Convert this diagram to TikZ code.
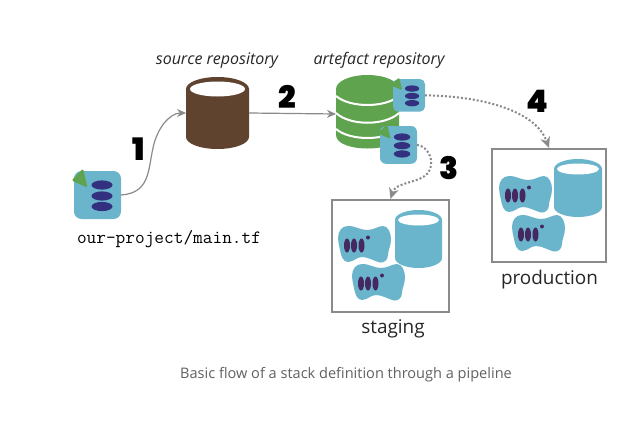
\documentclass[tikz,border=0pt]{standalone}
\usepackage{fontspec}
\usetikzlibrary{arrows.meta}
\setmainfont{Open Sans}
\newfontfamily\heavyfont{Poppins}[UprightFont=*-Black]
\definecolor{teal}{HTML}{6AB5CB}
\definecolor{grn}{HTML}{5FA34F}
\definecolor{brn}{HTML}{5F432E}
\definecolor{navy}{HTML}{33307F}
\definecolor{plum}{HTML}{45285F}
\definecolor{gry}{HTML}{8A8A8A}
\tikzset{
  link/.style={draw=gry,line width=1.2pt,-{Stealth[length=9pt,width=8pt]}},
  dotlink/.style={draw=gry,line width=2pt,dash pattern=on 2pt off 2pt,-{Stealth[length=11pt,width=10pt,line width=0pt]}},
  frame/.style={draw=gry,line width=2.2pt,fill=white,inner sep=0pt},
  num/.style={font=\heavyfont\fontsize{31}{31}\selectfont,inner sep=0pt,text=black},
  italiclabel/.style={font=\itshape\fontsize{16}{17}\selectfont,inner sep=0pt,text=black!85},
  envlabel/.style={font=\fontsize{18.9}{20}\selectfont,inner sep=0pt,text=black!85},
}
% file icon: name, left, top, size
\newcommand\fileicon[4]{%
  \begin{scope}[shift={(#2,#3)},x=#4/47,y=-#4/47]
    \fill[teal,rounded corners=#4*0.16] (0,0) rectangle (47,48);
    \fill[grn,rounded corners=1.5pt] (-2.5,9.5) -- (9,-2.5) -- (13.5,16.5) -- cycle;
    \fill[navy] (28,14) ellipse [x radius=10.5,y radius=4.6];
    \fill[navy] (28,25) ellipse [x radius=10.5,y radius=4.6];
    \fill[navy] (28,35.5) ellipse [x radius=10.5,y radius=4.6];
    \coordinate (#1) at (47,24);
  \end{scope}}
% cylinder: left, top, right, bottom, body colour, ellipse inset, outer y radius
\newcommand\drum[7]{%
  \fill[#5] (#1,#2+#7) arc[start angle=180,end angle=360,x radius=(#3-#1)/2,y radius=#7]
     -- (#3,#4-#7) arc[start angle=0,end angle=180,x radius=(#3-#1)/2,y radius=#7] -- cycle;
  \fill[white] ({(#1+#3)/2},#2+#7) ellipse [x radius=(#3-#1)/2-#6,y radius=#7-4.5];
}
% blob: left, top
\newcommand\blob[2]{%
  \begin{scope}[shift={(#1,#2)}]
    \fill[teal] (10,0) .. controls (18,0) and (22,4) .. (29,4)
      .. controls (36,4) and (40,0) .. (45,0)
      .. controls (50,0) and (53,7) .. (53,13)
      .. controls (53,20) and (50,24) .. (50,29)
      .. controls (50,34) and (46,37) .. (42,36.5)
      .. controls (36,35) and (30,31) .. (24,31)
      .. controls (19,31) and (15,36) .. (10,36)
      .. controls (5,36) and (3,30) .. (2,24)
      .. controls (1,19) and (0,16) .. (0,12)
      .. controls (0,5) and (4,0) .. (10,0) -- cycle;
    \fill[plum] (9,19.5) ellipse [x radius=3,y radius=7];
    \fill[plum] (16,19.5) ellipse [x radius=3,y radius=7];
    \fill[plum] (23.5,19.5) ellipse [x radius=3,y radius=7];
    \fill[plum] (30,11.5) circle [radius=2];
  \end{scope}}
\begin{document}
\begin{tikzpicture}[x=1pt,y=-1pt]
\useasboundingbox (0,0) rectangle (632,423);
\fill[white] (0,0) rectangle (632,423);

% source repository
\drum{186}{77}{249}{149}{brn}{4}{12}
\coordinate (srcw) at (186,113);
\coordinate (srce) at (249,113);

% file
\fileicon{mainfile}{74}{171}{47}
\node[font=\ttfamily\fontsize{18.8}{19}\selectfont,inner sep=0pt] (mainlabel) at (169,239) {our-project/main.tf};

% artefact stack
\fill[grn] (336,89) -- (399,89) -- (399,135) .. controls (399,153) and (336,153) .. (336,135) -- cycle;
\draw[white,line width=2pt] (336,96) .. controls (350,108) and (385,108) .. (399,96);
\draw[white,line width=2pt] (336,113) .. controls (350,126) and (385,126) .. (399,113);
\draw[white,line width=2pt] (336,129) .. controls (350,141) and (385,141) .. (399,129);
\fill[grn] (367.5,89) ellipse [x radius=31.5,y radius=14];
\coordinate (stackw) at (336,114);
\fileicon{artprod}{393}{79}{32}
\fileicon{artstag}{380}{126}{37}

% staging
\node[frame,minimum width=117pt,minimum height=112pt] (stagingbox) at (390.5,256) {};
\drum{395}{210}{442}{268}{teal}{3}{10}
\blob{338}{226}
\blob{352}{264}
\node[envlabel] (staginglabel) at (393,329) {staging};

% production
\node[frame,minimum width=114pt,minimum height=113pt] (prodbox) at (549,205.5) {};
\drum{554}{159}{602}{217}{teal}{3}{10}
\blob{499}{176}
\blob{512}{215}
\node[envlabel] (prodlabel) at (549.5,280) {production};

% connectors
\draw[link] (mainfile) .. controls (150,193) and (148,170) .. (153,148)
  .. controls (157,128) and (170,113) .. (srcw);
\draw[link] (srce) -- (stackw);
\draw[dotlink] (artprod) .. controls (480,96) and (535,110) .. (prodbox.north);
\draw[dotlink] (artstag) .. controls (428,146) and (436,162) .. (428,173)
  .. controls (420,183) and (396,182) .. (stagingbox.north);

% labels
\node[italiclabel] (srclabel) at (217,60.5) {source repository};
\node[italiclabel] (artlabel) at (379,60.5) {artefact repository};
\node[num] (n1) at (139,149) {1};
\node[num] (n2) at (287,97) {2};
\node[num] (n3) at (449,168) {3};
\node[num] (n4) at (537,101) {4};
\node[font=\fontsize{14.55}{15}\selectfont,text=black!62,inner sep=0pt] (caption) at (346,375) {Basic flow of a stack definition through a pipeline};
\end{tikzpicture}
\end{document}
